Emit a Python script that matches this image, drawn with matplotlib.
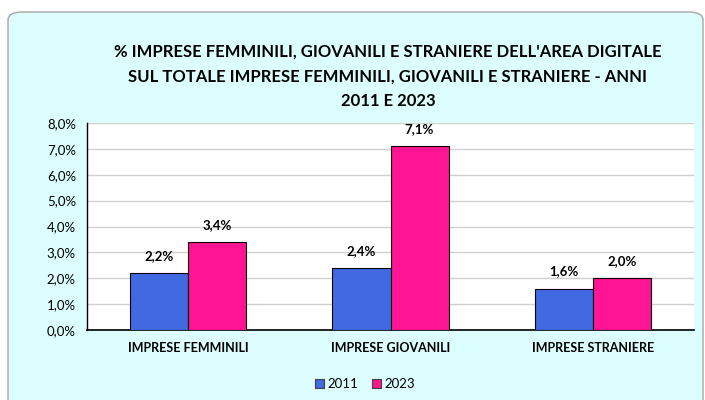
import matplotlib
matplotlib.use("Agg")
import matplotlib.pyplot as plt
from matplotlib.patches import FancyBboxPatch
import numpy as np

categories = ["IMPRESE FEMMINILI", "IMPRESE GIOVANILI", "IMPRESE STRANIERE"]
series_names = ["2011", "2023"]
values_2011 = [2.2, 2.4, 1.6]
values_2023 = [3.4, 7.1, 2.0]
yticks = [0, 1, 2, 3, 4, 5, 6, 7, 8]

plt.rcParams['font.family'] = ['Lato', 'DejaVu Sans']

fig = plt.figure(figsize=(7.05, 4.0), dpi=100)
fig.patch.set_facecolor('white')

bg = FancyBboxPatch((8/705, -0.05), 695/705, (400-12)/400 + 0.05,
                    boxstyle="round,pad=0,rounding_size=0.02",
                    transform=fig.transFigure, facecolor='#DDFEFE',
                    edgecolor='#A6A6A6', linewidth=1.0, zorder=-10)
fig.patches.append(bg)

ax = fig.add_axes([87/705, 70/400, 607/705, 207/400])
ax.set_zorder(2)
ax.set_facecolor('white')

x = np.arange(len(categories))
w = 0.287
b1 = ax.bar(x - w/2, values_2011, w, color='#4169E1', edgecolor='black', linewidth=0.8, label=series_names[0], zorder=3)
b2 = ax.bar(x + w/2, values_2023, w, color='#FF1493', edgecolor='black', linewidth=0.8, label=series_names[1], zorder=3)

for bars, vals in ((b1, values_2011), (b2, values_2023)):
    for r, v in zip(bars, vals):
        ax.annotate(f"{v:.1f}%".replace('.', ','), (r.get_x() + r.get_width()/2, v),
                    xytext=(0, 8), textcoords='offset points', ha='center', va='bottom',
                    fontsize=9.5, fontweight='bold')

ax.set_xlim(-0.5, 2.5)
ax.set_ylim(0, 8)
ax.set_yticks(yticks)
ax.set_yticklabels([f"{t:.1f}%".replace('.', ',') for t in yticks], fontsize=9.5)
ax.set_xticks(x)
ax.set_xticklabels(categories, fontsize=9, fontweight='bold')
ax.tick_params(axis='both', length=0, pad=8)
ax.tick_params(axis='x', pad=9)
ax.grid(axis='y', color='#D0D0D0', linewidth=1.0, zorder=0)
ax.set_axisbelow(True)
for s in ('top', 'right'):
    ax.spines[s].set_visible(False)
ax.spines['left'].set_color('black')
ax.spines['bottom'].set_color('black')
ax.spines['left'].set_linewidth(1.0)
ax.spines['bottom'].set_linewidth(1.2)

for y, line in ((52, "% IMPRESE FEMMINILI, GIOVANILI E STRANIERE DELL'AREA DIGITALE"),
                (77, "SUL TOTALE IMPRESE FEMMINILI, GIOVANILI E STRANIERE - ANNI"),
                (101, "2011 E 2023")):
    fig.text(388/705, 1 - y/400, line, ha='center', va='center',
             fontsize=12, fontweight='bold')

leg = fig.legend(handles=[b1, b2], labels=series_names, loc='center',
                 bbox_to_anchor=(365/705, 1 - 384/400), ncol=2, frameon=False,
                 fontsize=9.5, handlelength=0.7, handleheight=0.7, handletextpad=0.3,
                 columnspacing=1.0)
for h in leg.legend_handles:
    h.set_edgecolor('#404040')

fig.savefig("out.png", dpi=100)
